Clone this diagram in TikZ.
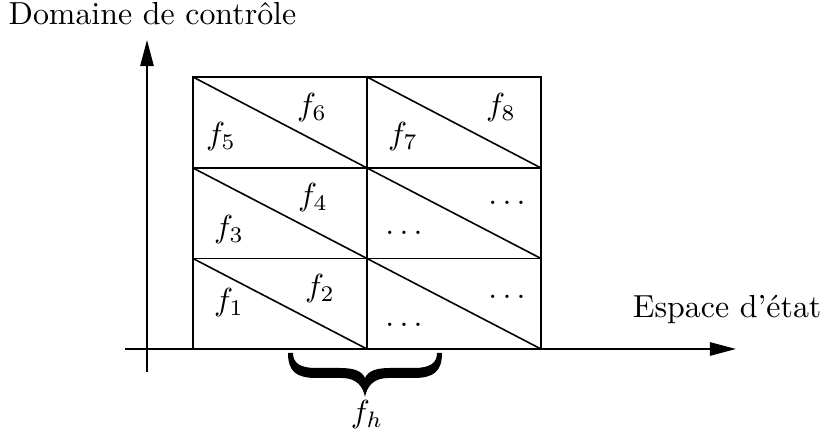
\documentclass[tikz,border=0pt]{standalone}
\usetikzlibrary{arrows.meta}
\begin{document}
\begin{tikzpicture}[x=0.3135pt,y=-0.3135pt,
  gridline/.style={line width=0.5pt},
  axis/.style={line width=0.5pt,-{Triangle[length=8.2pt,width=4.2pt]}},
  bracefill/.style={fill=black,draw=none},
  lbl/.style={inner sep=0pt}]
\useasboundingbox (0,0) rectangle (825,437);
% axes
\coordinate (xs) at (125,349);
\coordinate (xe) at (736,349);
\coordinate (ys) at (147,372);
\coordinate (ye) at (147,40);
\draw[axis] (xs) -- (xe);
\draw[axis] (ys) -- (ye);
% grid
\foreach \c/\x in {0/193,1/367,2/541}{
  \foreach \r/\y in {0/349,1/258.5,2/168,3/77}{
    \coordinate (p\c\r) at (\x,\y);
  }
}
\draw[gridline] (p00) rectangle (p23);
\draw[gridline] (p01) -- (p21);
\draw[gridline] (p02) -- (p22);
\draw[gridline] (p10) -- (p13);
\foreach \c/\cc in {0/1,1/2}{
  \draw[gridline] (p\c1) -- (p\cc0);
  \draw[gridline] (p\c2) -- (p\cc1);
  \draw[gridline] (p\c3) -- (p\cc2);
}
% labels
\node[lbl] (f5) at (221,137) {$f_5$};
\node[lbl] (f6) at (312,108) {$f_6$};
\node[lbl] (f7) at (403,137) {$f_7$};
\node[lbl] (f8) at (501,108) {$f_8$};
\node[lbl] (f3) at (229,230) {$f_3$};
\node[lbl] (f4) at (313,198) {$f_4$};
\node[lbl] (f1) at (229,303) {$f_1$};
\node[lbl] (f2) at (320,289) {$f_2$};
\node[lbl] (d1) at (507,203) {$\dots$};
\node[lbl] (d2) at (404,233) {$\dots$};
\node[lbl] (d3) at (507,297) {$\dots$};
\node[lbl] (d4) at (404,325) {$\dots$};
% brace (filled shape)
\fill[bracefill] (288,353) .. controls (288,371) and (296,378) .. (316,378)
  -- (342,378) .. controls (356,378) and (363,386) .. (365,397)
  .. controls (367,386) and (374,378) .. (388,378)
  -- (414,378) .. controls (434,378) and (442,371) .. (442,353)
  -- (437,353) .. controls (437,363) and (430,368) .. (414,368)
  -- (390,368) .. controls (376,368) and (368,371) .. (365,378)
  .. controls (362,371) and (354,368) .. (340,368)
  -- (316,368) .. controls (300,368) and (293,363) .. (293,353) -- cycle;
\node[lbl] (fh) at (367,415) {$f_h$};
% axis titles
\node[lbl,anchor=base west] (dc) at (8,25) {Domaine de contrôle};
\node[lbl,anchor=base east] (ee) at (822,318) {Espace d'état};
\end{tikzpicture}
\end{document}
